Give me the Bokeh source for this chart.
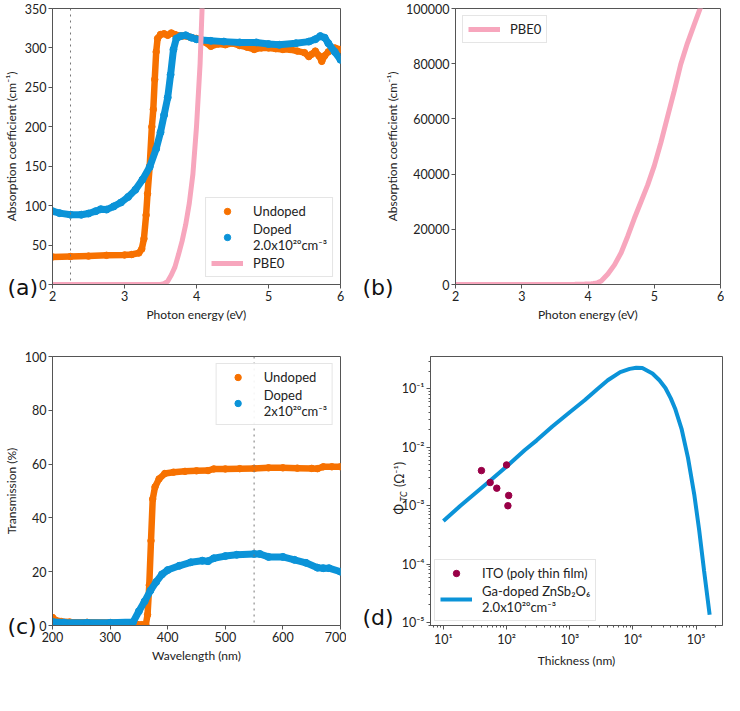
from bokeh.plotting import figure
from bokeh.layouts import column, row
from bokeh.models import (Range1d, FixedTicker, Span, Label, Legend, LegendItem, CustomJSTickFormatter,
                          LogTicker, BasicTickFormatter)
from bokeh.embed import file_html
from bokeh.resources import INLINE
import math

# ---------------- data ----------------
# (a) absorption coefficient vs photon energy
undoped_E = [2.0, 2.25, 2.5, 2.75, 3.0, 3.1, 3.2, 3.24, 3.27, 3.30, 3.32, 3.35, 3.38, 3.40, 3.42, 3.44, 3.46,
             3.5, 3.55, 3.6, 3.65, 3.7, 3.8, 3.9, 4.0, 4.1, 4.2, 4.3, 4.4, 4.5, 4.6, 4.7, 4.8, 4.9, 5.0,
             5.1, 5.2, 5.3, 5.4, 5.5, 5.56, 5.6, 5.65, 5.7, 5.74, 5.78, 5.83, 5.88, 5.92, 6.0]
undoped_alpha = [35, 35.5, 36, 37, 37.5, 38, 40, 45, 58, 88, 115, 150, 200, 222, 260, 295, 312,
                 317, 318, 316, 319, 317, 315, 314, 312, 308, 302, 305, 304, 306, 303, 301, 298, 300, 300,
                 299, 298, 298, 296, 294, 289, 292, 296, 290, 283, 290, 295, 298, 300, 298]
doped_E = [2.0, 2.1, 2.25, 2.4, 2.5, 2.6, 2.67, 2.75, 2.85, 2.95, 3.05, 3.15, 3.25, 3.35, 3.44, 3.5, 3.55,
           3.6, 3.64, 3.68, 3.72, 3.78, 3.85, 3.93, 4.0, 4.07, 4.2, 4.38, 4.6, 4.83, 5.0, 5.15, 5.38,
           5.56, 5.65, 5.72, 5.78, 5.83, 5.92, 6.0]
doped_alpha = [93, 90.5, 88.5, 88.5, 90, 93, 95.5, 95, 99, 104, 111, 120, 133, 149, 172, 193, 215,
               237, 266, 298, 312, 315, 316, 313, 311, 310, 309, 308, 307, 307, 305, 304, 306,
               308, 311, 315, 313, 306, 295, 285]
pbe0_E = [2.0, 3.0, 3.5, 3.55, 3.6, 3.65, 3.7, 3.75, 3.8, 3.85, 3.9, 3.95, 4.0, 4.05, 4.08, 4.1, 4.15,
          4.2, 4.3, 4.4, 4.5, 4.6, 4.7, 4.8, 4.9, 5.0, 5.1, 5.2, 5.3, 5.4, 5.5, 5.6, 5.7]
pbe0_alpha = [0, 0, 0, 1, 4, 12, 22, 38, 55, 76, 103, 140, 200, 280, 356, 420, 700,
              1300, 3800, 7100, 11500, 17500, 24000, 30000, 36000, 43000, 51400, 60700, 70000, 79800,
              87400, 94000, 100500]
vline_a = 2.25

# (c) transmission vs wavelength
undoped_wl = [200, 205, 215, 230, 260, 300, 330, 345, 355, 362, 365, 368, 371, 374, 378, 385, 395, 410,
              430, 450, 470, 480, 500, 525, 550, 575, 600, 625, 650, 660, 670, 685, 700]
undoped_T = [3.0, 2.0, 1.5, 1.3, 1.2, 1.1, 1.0, 0.6, 0.3, 0.3, 4, 15, 31.5, 47, 51.5, 54.5, 56.5, 57,
             57.3, 57.5, 57.6, 58.2, 58.2, 58.3, 58.4, 58.6, 58.6, 58.5, 58.4, 58.3, 59, 59, 59]
doped_wl = [200, 220, 260, 300, 340, 350, 360, 370, 380, 390, 400, 420, 440, 460, 470, 480, 500, 520,
            550, 560, 575, 600, 620, 640, 660, 670, 680, 700]
doped_T = [1.3, 1.1, 1.0, 1.0, 1.3, 5.3, 9, 13, 16.2, 19, 20.6, 22.2, 23.5, 24.1, 23.9, 25, 25.8, 26.3,
           26.6, 26.6, 25.5, 25.5, 24.4, 23.3, 21.5, 21.3, 21.3, 20]
vline_c = 550

# (d) figure of merit vs thickness
ito_t = [40, 55, 70, 100, 108, 105]
ito_phi = [4.0e-3, 2.5e-3, 2.0e-3, 5.0e-3, 1.5e-3, 1.0e-3]
zso_t = [10, 18.6, 53, 100, 195, 300, 530, 1000, 1720, 2750, 4000, 6300, 8900, 11300, 14100, 20400, 26300,
         32700, 39800, 46500, 58900, 74500, 94200, 112000, 134000, 164000]
zso_phi = [5.5e-4, 1.0e-3, 2.6e-3, 4.7e-3, 9.0e-3, 1.32e-2, 2.28e-2, 4.0e-2, 6.4e-2, 0.10, 0.141, 0.195, 0.221,
           0.231, 0.228, 0.184, 0.141, 0.104, 0.069, 0.0464, 0.0208, 6.6e-3, 1.49e-3, 3.8e-4, 7.6e-5, 1.36e-5]

ticks_a_x = [2, 3, 4, 5, 6]
ticks_a_y = [0, 50, 100, 150, 200, 250, 300, 350]
ticks_b_y = [0, 20000, 40000, 60000, 80000, 100000]
ticks_c_x = [200, 300, 400, 500, 600, 700]
ticks_c_y = [0, 20, 40, 60, 80, 100]

# ---------------- style ----------------
ORANGE = "#f77100"
BLUE = "#0b93d8"
PINK = "#f7a6bd"
MAROON = "#990047"
FONT = "Lato"
SPINE = "#555555"
FRAME_H = 276


def style(p, xlabel, ylabel, linear=True):
    p.background_fill_color = "white"
    p.border_fill_color = "white"
    p.outline_line_color = SPINE
    p.outline_line_width = 1
    p.xgrid.visible = False
    p.ygrid.visible = False
    for ax in (p.xaxis[0], p.yaxis[0]):
        ax.axis_line_color = SPINE
        ax.major_tick_line_color = SPINE
        ax.major_tick_out = 4
        ax.major_tick_in = 0
        ax.minor_tick_out = 2
        ax.minor_tick_in = 0
        ax.minor_tick_line_color = None if linear else SPINE
        ax.major_label_text_font = FONT
        ax.major_label_text_font_size = "12.5px"
        ax.major_label_text_color = "#222222"
        ax.major_label_standoff = 2
        ax.axis_label_text_font = FONT
        ax.axis_label_text_font_size = "12px"
        ax.axis_label_text_font_style = "normal"
        ax.axis_label_text_color = "#222222"
        ax.axis_label_standoff = 3
    p.xaxis.axis_label = xlabel
    p.yaxis.axis_label = ylabel


def off(start, end, frame_px, px, log=False):
    """data coordinate lying px pixels from the start of an axis range"""
    if log:
        a, b = math.log10(start), math.log10(end)
        return 10 ** (a + px * (b - a) / frame_px)
    return start + px * (end - start) / frame_px


def side_label(p, side, **kw):
    # labels in a side panel are not clipped to the frame
    p.add_layout(Label(**kw), side)


def panel_label(p, txt, x, y):
    side_label(p, "below", x=x, y=y, text=txt, text_font="DejaVu Sans", text_font_size="22px",
               text_color="#111111", text_baseline="alphabetic")


def legend(p, items, loc, margin=7):
    lg = Legend(items=items, location=loc, margin=margin, padding=5, spacing=2,
                label_text_font=FONT, label_text_font_size="13px", label_text_color="#222222",
                label_standoff=10, glyph_width=32, glyph_height=16, label_height=16,
                border_line_color="#cccccc", border_line_width=1, background_fill_alpha=0.9)
    p.add_layout(lg)
    return lg


# ---------------- panel (a) ----------------
xa, ya = (2, 6), (0, 350)
fa = figure(width=346, height=349, output_backend="svg", toolbar_location=None,
            x_range=Range1d(*xa), y_range=Range1d(*ya),
            min_border_left=46, min_border_right=6, min_border_top=8, min_border_bottom=40)
style(fa, "Photon energy (eV)", "Absorption coefficient (cm⁻¹)")
fa.xaxis.ticker = FixedTicker(ticks=ticks_a_x)
fa.yaxis.ticker = FixedTicker(ticks=ticks_a_y)
fa.add_layout(Span(location=vline_a, dimension="height", line_color="#777777",
                   line_dash="dotted", line_width=1))
fa.line(undoped_E, undoped_alpha, line_color=ORANGE, line_width=6.5, line_join="round", line_cap="round")
ra1 = fa.scatter(undoped_E, undoped_alpha, size=6.5, fill_color=ORANGE, line_color=ORANGE)
fa.line(doped_E, doped_alpha, line_color=BLUE, line_width=7, line_join="round", line_cap="round")
ra2 = fa.scatter(doped_E, doped_alpha, size=7, fill_color=BLUE, line_color=BLUE)
ra3 = fa.line(pbe0_E, pbe0_alpha, line_color=PINK, line_width=5)
legend(fa, [LegendItem(label="Undoped", renderers=[ra1]),
            LegendItem(label="Doped\n2.0x10²⁰cm⁻³", renderers=[ra2]),
            LegendItem(label="PBE0", renderers=[ra3])], "bottom_right")
panel_label(fa, "(a)", off(*xa, 294, -46), off(*ya, FRAME_H, -3))

# ---------------- panel (b) ----------------
yb = (0, 100000)
fb = figure(width=378, height=349, output_backend="svg", toolbar_location=None,
            x_range=Range1d(*xa), y_range=Range1d(*yb),
            min_border_left=109, min_border_right=4, min_border_top=8, min_border_bottom=40)
style(fb, "Photon energy (eV)", "Absorption coefficient (cm⁻¹)")
fb.xaxis.ticker = FixedTicker(ticks=ticks_a_x)
fb.yaxis.ticker = FixedTicker(ticks=ticks_b_y)
fb.yaxis.formatter = BasicTickFormatter(use_scientific=False)
rb = fb.line(pbe0_E, pbe0_alpha, line_color=PINK, line_width=5)
legend(fb, [LegendItem(label="PBE0", renderers=[rb])], "top_left")
panel_label(fb, "(b)", off(*xa, 265, -93), off(*yb, FRAME_H, -3))

# ---------------- panel (c) ----------------
xc, yc = (200, 700), (0, 100)
fc = figure(width=346, height=346, output_backend="svg", toolbar_location=None,
            x_range=Range1d(*xc), y_range=Range1d(*yc),
            min_border_left=46, min_border_right=6, min_border_top=7, min_border_bottom=40)
style(fc, "Wavelength (nm)", "Transmission (%)")
fc.xaxis.ticker = FixedTicker(ticks=ticks_c_x)
fc.yaxis.ticker = FixedTicker(ticks=ticks_c_y)
fc.add_layout(Span(location=vline_c, dimension="height", line_color="#777777",
                   line_dash="dotted", line_width=1))
fc.line(undoped_wl, undoped_T, line_color=ORANGE, line_width=6.5, line_join="round", line_cap="round")
rc1 = fc.scatter(undoped_wl, undoped_T, size=6.5, fill_color=ORANGE, line_color=ORANGE)
fc.line(doped_wl, doped_T, line_color=BLUE, line_width=7, line_join="round", line_cap="round")
rc2 = fc.scatter(doped_wl, doped_T, size=7, fill_color=BLUE, line_color=BLUE)
legend(fc, [LegendItem(label="Undoped", renderers=[rc1]),
            LegendItem(label="Doped\n2x10²⁰cm⁻³", renderers=[rc2])], "top_right")
panel_label(fc, "(c)", off(*xc, 294, -46), off(*yc, FRAME_H, -1))

# ---------------- panel (d) ----------------
xd, yd = (6.25, 2.62e5), (8.9e-6, 0.36)
fd = figure(width=378, height=346, output_backend="svg", toolbar_location=None,
            x_axis_type="log", y_axis_type="log",
            x_range=Range1d(*xd), y_range=Range1d(*yd),
            min_border_left=84, min_border_right=2, min_border_top=7, min_border_bottom=40)
style(fd, "Thickness (nm)", "", linear=False)
fd.xaxis.ticker = LogTicker(num_minor_ticks=10)
fd.yaxis.ticker = LogTicker(num_minor_ticks=10)
sup_js = """
const sup = {"-":"\u207b","0":"\u2070","1":"\u00b9","2":"\u00b2","3":"\u00b3","4":"\u2074",
             "5":"\u2075","6":"\u2076","7":"\u2077","8":"\u2078","9":"\u2079"};
const e = Math.round(Math.log10(tick));
return "10" + String(e).split("").map(c => sup[c]).join("");
"""
fd.xaxis.formatter = CustomJSTickFormatter(code=sup_js)
fd.yaxis.formatter = CustomJSTickFormatter(code=sup_js)
rd2 = fd.line(zso_t, zso_phi, line_color=BLUE, line_width=4)
rd1 = fd.scatter(ito_t, ito_phi, size=6.5, fill_color=MAROON, line_color=MAROON)
legend(fd, [LegendItem(label="ITO (poly thin film)", renderers=[rd1]),
            LegendItem(label="Ga-doped ZnSb₂O₆\n2.0x10²⁰cm⁻³", renderers=[rd2])], "bottom_left", margin=4)
panel_label(fd, "(d)", off(*xd, 292, -68, True), off(*yd, FRAME_H, 8, True))
# y-axis label  Φ_TC (Ω⁻¹), rotated pieces in the left panel
for txt, dx, dy, size, fstyle in [("Φ", -31, 114, "12.5px", "normal"),
                                  ("TC", -27, 127, "9px", "italic"),
                                  ("(Ω⁻¹)", -31, 142, "12.5px", "normal")]:
    side_label(fd, "left", x=off(*xd, 292, dx, True), y=off(*yd, FRAME_H, dy, True), text=txt,
               angle=math.pi / 2, text_font=FONT, text_font_size=size, text_font_style=fstyle,
               text_color="#222222", text_align="left", text_baseline="alphabetic")

layout = column(row(fa, fb), row(fc, fd))
open("out.html", "w").write(file_html(layout, INLINE))
